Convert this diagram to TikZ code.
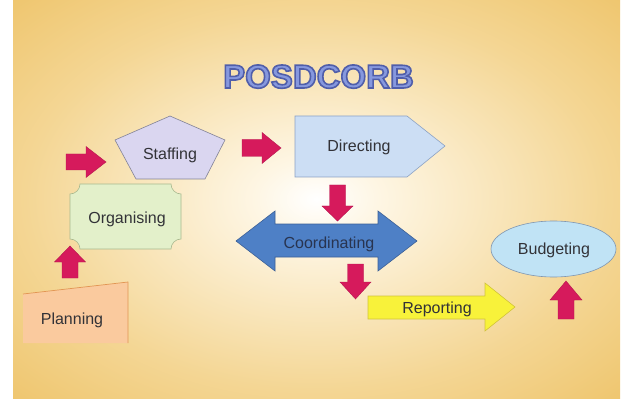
\documentclass[tikz,border=0pt]{standalone}
\usepackage{fontspec}
\setmainfont{Liberation Sans}
\definecolor{bgorange}{RGB}{236,189,90}
\definecolor{bgmid}{RGB}{244,214,148}
\definecolor{bglight}{RGB}{254,246,228}
\definecolor{arrowred}{RGB}{214,26,92}
\definecolor{txtgray}{RGB}{50,50,55}
\definecolor{titlefill}{RGB}{134,152,222}
\definecolor{titleline}{RGB}{80,94,170}
\definecolor{stafffill}{RGB}{218,214,240}
\definecolor{staffline}{RGB}{130,130,150}
\definecolor{dirfill}{RGB}{204,222,244}
\definecolor{dirline}{RGB}{140,162,196}
\definecolor{coordfill}{RGB}{78,128,198}
\definecolor{coordline}{RGB}{60,96,150}
\definecolor{coordtxt}{RGB}{40,52,80}
\definecolor{repfill}{RGB}{248,242,58}
\definecolor{repline}{RGB}{210,196,60}
\definecolor{budfill}{RGB}{192,227,245}
\definecolor{budline}{RGB}{128,150,176}
\definecolor{orgfill}{RGB}{227,240,202}
\definecolor{orgline}{RGB}{168,184,142}
\definecolor{planfill}{RGB}{250,202,158}
\definecolor{planline}{RGB}{226,150,84}
\pgfdeclareradialshading{bgshade}{\pgfpoint{0bp}{0bp}}{color(0bp)=(white); color(5bp)=(bglight); color(24bp)=(bgmid); color(42bp)=(bgorange); color(50bp)=(bgorange)}
% outlined text: fill in current colour, stroke in title outline colour
\newcommand\myOutlined[1]{\special{pdf:literal direct 2 Tr 1.6 w 0.314 0.369 0.667 RG}#1\special{pdf:literal direct 0 Tr}}
% right-pointing block arrow: tail x, head-start x, tip x, centre y, shaft half, head half
\newcommand\myArrowRight[6]{\filldraw[redarrow] (#1,{#4+#5}) -- (#2,{#4+#5}) -- (#2,{#4+#6}) -- (#3,#4) -- (#2,{#4-#6}) -- (#2,{#4-#5}) -- (#1,{#4-#5}) -- cycle;}
% vertical block arrow: centre x, tail y, head-base y, tip y, shaft half, head half
\newcommand\myArrowVert[6]{\filldraw[redarrow] ({#1-#5},#2) -- ({#1+#5},#2) -- ({#1+#5},#3) -- ({#1+#6},#3) -- (#1,#4) -- ({#1-#6},#3) -- ({#1-#5},#3) -- cycle;}
\begin{document}
\begin{tikzpicture}[x=1pt,y=1pt,
  lbl/.style={font=\fontsize{16}{16}\selectfont, text=txtgray, inner sep=0pt, anchor=base},
  titlefont/.style={font=\fontsize{33}{33}\selectfont\bfseries, inner sep=0pt, anchor=base},
  redarrow/.style={fill=arrowred, draw=arrowred!85!black, line width=0.4pt},
  shapeline/.style={line width=0.6pt, line join=miter}]
\fill[white] (0,0) rectangle (627,-401);
\useasboundingbox (0,0) rectangle (627,-401);
\shade[shading=bgshade] (13,0) rectangle (620,-398);
% title
\node[titlefont, text=titlefill] (title) at (318.5,-88) {\myOutlined{POSDCORB}};
% Staffing
\filldraw[shapeline, fill=stafffill, draw=staffline] (170,-116) -- (225,-140) -- (205,-179) -- (136,-179) -- (115,-140) -- cycle;
\node[lbl] (staffing) at (170,-159.5) {Staffing};
% Directing
\filldraw[shapeline, fill=dirfill, draw=dirline] (295,-116) -- (407,-116) -- (445,-146) -- (407,-177) -- (295,-177) -- cycle;
\node[lbl] (directing) at (359,-151.5) {Directing};
% Coordinating
\filldraw[shapeline, fill=coordfill, draw=coordline] (236,-241) -- (275,-211) -- (275,-224) -- (378,-224) -- (378,-211) -- (417,-241) -- (378,-271) -- (378,-257) -- (275,-257) -- (275,-271) -- cycle;
\node[lbl, text=coordtxt] (coordinating) at (329,-248.5) {Coordinating};
% Reporting
\filldraw[shapeline, fill=repfill, draw=repline] (368,-296) -- (485,-296) -- (485,-283) -- (515,-307) -- (485,-331) -- (485,-319) -- (368,-319) -- cycle;
\node[lbl] (reporting) at (437,-313.5) {Reporting};
% Budgeting
\filldraw[shapeline, fill=budfill, draw=budline] (553.5,-249) ellipse [x radius=62.5, y radius=28];
\node[lbl] (budgeting) at (554,-254.5) {Budgeting};
% Organising
\filldraw[shapeline, fill=orgfill, draw=orgline] (80,-184) -- (171,-184) arc[start angle=180, end angle=270, radius=10] -- (181,-239) arc[start angle=90, end angle=180, radius=10] -- (80,-249) arc[start angle=0, end angle=90, radius=10] -- (70,-194) arc[start angle=270, end angle=360, radius=10] -- cycle;
\node[lbl] (organising) at (127,-223.5) {Organising};
% Planning
\fill[planfill] (23,-294) -- (128,-282) -- (128,-343) -- (23,-343) -- cycle;
\draw[line width=0.7pt, draw=planline] (23,-294) -- (128,-282) -- (128,-343);
\node[lbl] (planning) at (72,-324.5) {Planning};
% red block arrows
\myArrowRight{66}{86}{106}{-162}{8}{15.5}
\myArrowRight{242}{262}{281}{-148}{8.5}{15.5}
\myArrowVert{337.5}{-185}{-206}{-221}{8}{15.5}
\myArrowVert{355.5}{-264}{-282}{-299}{8}{15.5}
\myArrowVert{566}{-319}{-300}{-281}{8}{16}
\myArrowVert{70}{-278}{-262}{-246}{8}{15.5}
\end{tikzpicture}
\end{document}
